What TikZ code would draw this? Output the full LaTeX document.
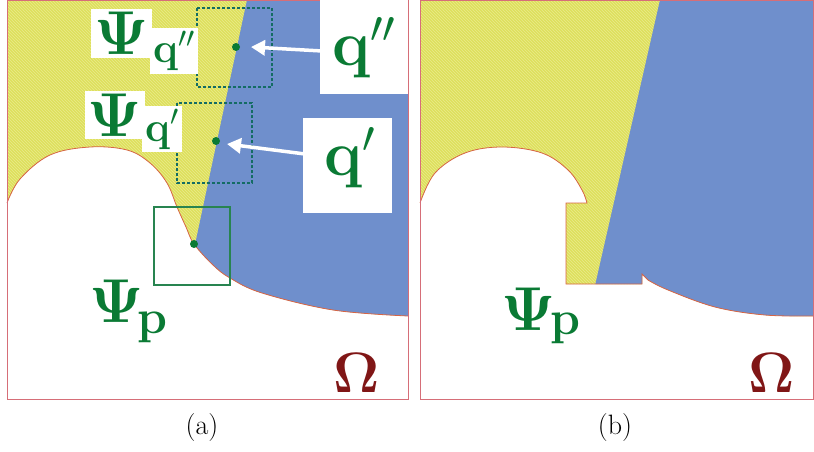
\RequirePackage{fix-cm}
\documentclass[tikz,border=0pt]{standalone}
\usetikzlibrary{patterns,arrows.meta}
\definecolor{psigreen}{RGB}{10,122,52}
\definecolor{yel}{RGB}{222,224,92}
\definecolor{yelhatch}{RGB}{234,234,140}
\definecolor{blu}{RGB}{111,143,204}
\definecolor{omred}{RGB}{128,22,22}
\definecolor{boxteal}{RGB}{20,108,100}
\definecolor{pboxgreen}{RGB}{40,132,80}
\definecolor{framered}{RGB}{214,110,120}
\definecolor{boundcol}{RGB}{214,100,70}
\begin{document}
\begin{tikzpicture}[x=1pt,y=-1pt,
  psi/.style={text=psigreen, inner sep=0pt, font=\fontsize{62}{62}\selectfont},
  psiw/.style={psi, fill=white, inner sep=3pt},
  subq/.style={text=psigreen, inner sep=0pt, font=\fontsize{42}{42}\selectfont},
  subqw/.style={subq, fill=white, inner sep=3pt},
  subp/.style={text=psigreen, inner sep=0pt, font=\fontsize{48}{48}\selectfont},
  bigq/.style={text=psigreen, inner sep=0pt, font=\fontsize{64}{64}\selectfont},
  wbox/.style={fill=white, inner sep=0pt},
  omega/.style={text=omred, inner sep=0pt, font=\fontsize{57}{57}\selectfont},
  capt/.style={inner sep=0pt, font=\fontsize{28}{28}\selectfont},
  dbox/.style={draw=boxteal, dash pattern=on 3pt off 2pt, line width=1.2pt},
  pbox/.style={draw=pboxgreen, line width=1.4pt},
  dotn/.style={circle, fill=psigreen, inner sep=0pt, minimum size=8pt},
  arr/.style={white, line width=3.5pt, -{Triangle[length=14pt,width=15pt]}},
  frame/.style={draw=framered, line width=0.8pt},
  bound/.style={draw=boundcol, line width=0.8pt},
]
\useasboundingbox (0,0) rectangle (814,452);

% ---------------- panel (a) ----------------
\begin{scope}
  \clip plot[smooth,tension=0.6] coordinates {(7,203) (20,179) (50,155) (90,147) (127,150) (150,163) (167,183) (177,207) (186,227) (194,244) (213,265) (230,278) (262,293) (333,310) (408,316)} -- (408,0) -- (7,0) -- cycle;
  \fill[yel] (7,0) rectangle (408,400);
  \fill[pattern=north west lines, pattern color=yelhatch] (7,0) rectangle (408,400);
  \fill[blu] (247,0) -- (408,0) -- (408,400) -- (162,400) -- cycle;
\end{scope}
\draw[bound] plot[smooth,tension=0.6] coordinates {(7,203) (20,179) (50,155) (90,147) (127,150) (150,163) (167,183) (177,207) (186,227) (194,244) (213,265) (230,278) (262,293) (333,310) (408,316)};
\draw[frame] (7,0.4) rectangle (408,399);

% boxes
\draw[dbox] (197,8) rectangle (272,87);
\draw[dbox] (177,103) rectangle (252,183);
\draw[pbox] (154,207) rectangle (230,285);

% dots
\node[dotn] (dqpp) at (236,47) {};
\node[dotn] (dqp) at (216,141) {};
\node[dotn] (dp) at (194,244) {};

% big labels
\node[wbox, minimum width=88pt, minimum height=94pt] (qppbox) at (364,47) {};
\node[bigq] (qpp) at (364,48) {$\mathbf{q}''$};
\node[wbox, minimum width=89pt, minimum height=95pt] (qpbox) at (347.5,165.5) {};
\node[bigq] (qp) at (350,158) {$\mathbf{q}'$};

% arrows
\coordinate (t1) at (322,51);
\coordinate (h1) at (251,47);
\coordinate (t2) at (305,154);
\coordinate (h2) at (227,144);
\draw[arr] (t1) -- (h1);
\draw[arr] (t2) -- (h2);

% Psi labels
\node[subqw, anchor=base west] (sqpp) at (150,63) {$\mathbf{q}''$};
\node[psiw] (psiqpp) at (121.5,33.5) {$\mathbf{\Psi}$};
\node[subqw, anchor=base west] (sqp) at (142,141) {$\mathbf{q}'$};
\node[psiw] (psiqp) at (115,115) {$\mathbf{\Psi}$};
\node[psi] (psipa) at (117,301.5) {$\mathbf{\Psi}$};
\node[subp, anchor=base west] (spa) at (137,333) {$\mathbf{p}$};
\node[omega] (oma) at (357,372.5) {$\mathbf{\Omega}$};

% ---------------- panel (b) ----------------
\begin{scope}
  \clip plot[smooth,tension=0.6] coordinates {(420,203) (435,173) (465,153) (502,147) (542,153) (568,170) (582,190) (587,203)} -- (566,203) -- (566,284) -- (642,284) -- (642,274) -- plot[smooth,tension=0.6] coordinates {(648,280) (668,290) (715,307) (765,315) (814,316)} -- (814,0) -- (420,0) -- cycle;
  \fill[yel] (420,0) rectangle (814,400);
  \fill[pattern=north west lines, pattern color=yelhatch] (420,0) rectangle (814,400);
  \fill[blu] (660,0) -- (814,0) -- (814,400) -- (569,400) -- cycle;
\end{scope}
\draw[bound] plot[smooth,tension=0.6] coordinates {(420,203) (435,173) (465,153) (502,147) (542,153) (568,170) (582,190) (587,203)} -- (566,203) -- (566,284) -- (642,284) -- (642,274) -- plot[smooth,tension=0.6] coordinates {(648,280) (668,290) (715,307) (765,315) (814,316)};
\draw[frame] (420,0.4) rectangle (813.6,399);

\node[psi] (psipb) at (528.5,309.5) {$\mathbf{\Psi}$};
\node[subp, anchor=base west] (spb) at (550,334) {$\mathbf{p}$};
\node[omega] (omb) at (772,372.5) {$\mathbf{\Omega}$};

% captions
\node[capt] (capa) at (202,428) {(a)};
\node[capt] (capb) at (615,428) {(b)};
\end{tikzpicture}
\end{document}
